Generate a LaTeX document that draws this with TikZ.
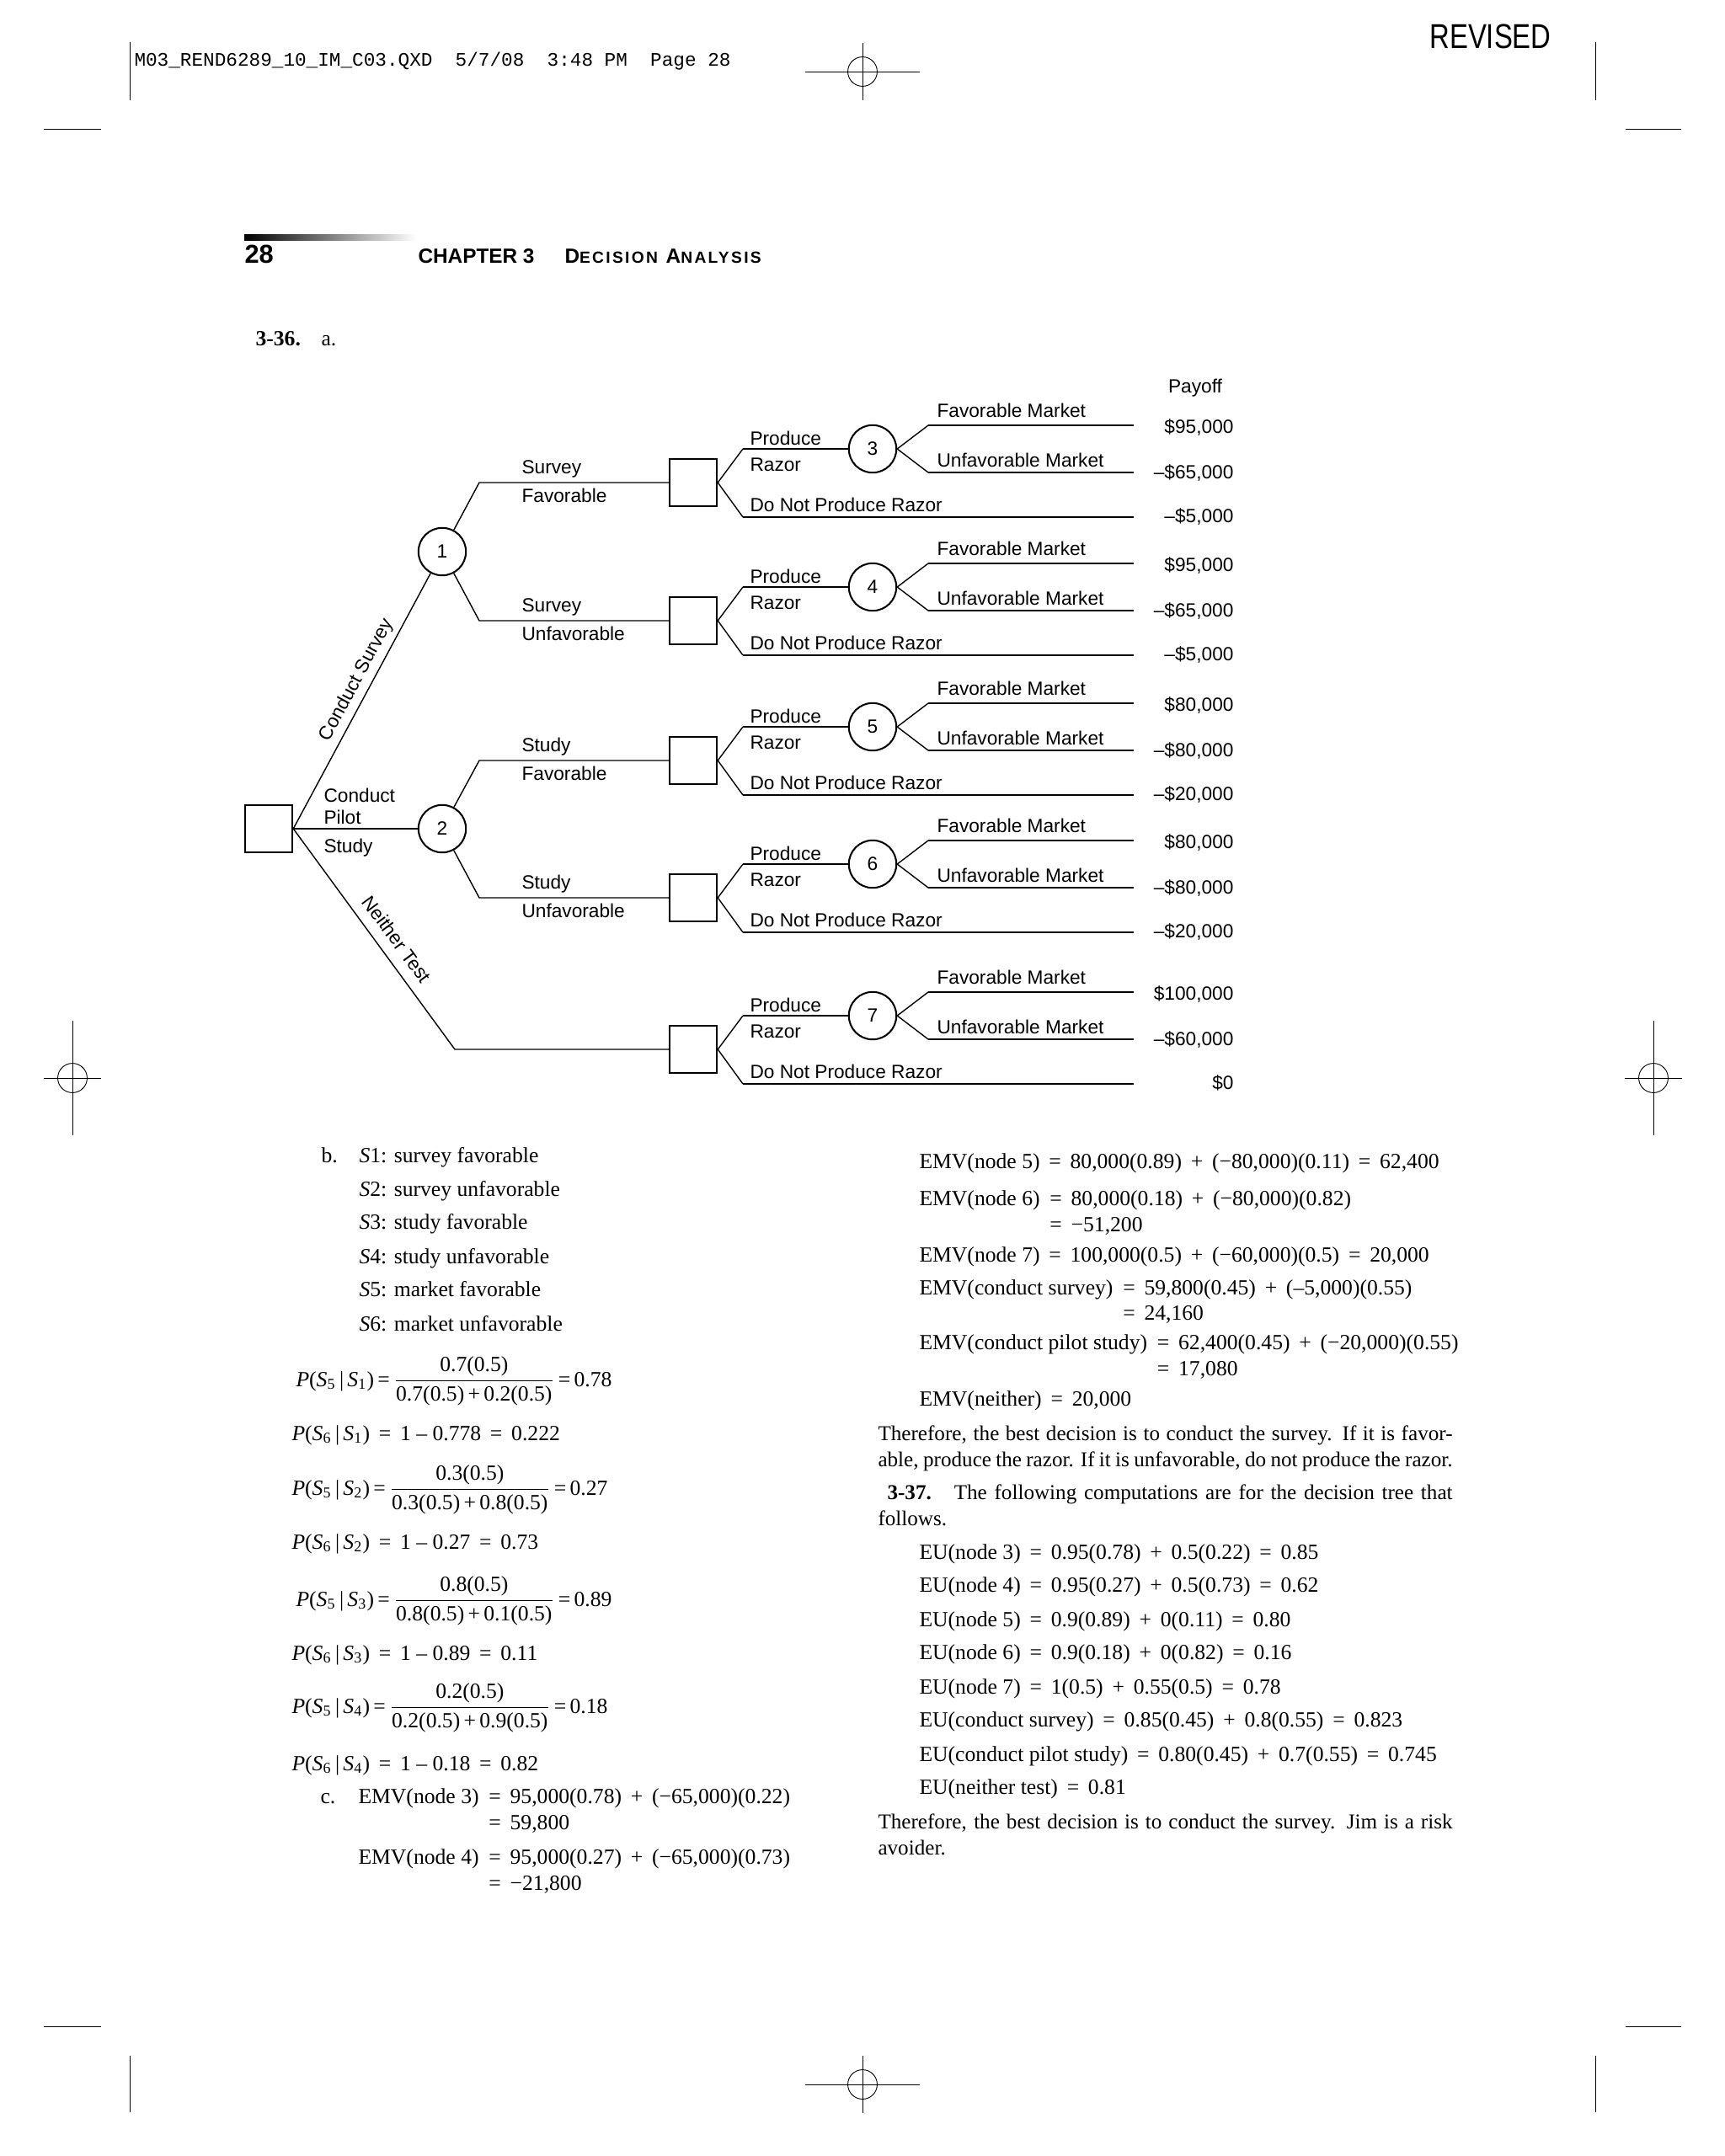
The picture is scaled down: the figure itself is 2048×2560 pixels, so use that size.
\documentclass[tikz,border=0pt]{standalone}
\usepackage{amsmath}
\usepackage{fontspec}
\setmainfont{Liberation Serif}
\setsansfont{Liberation Sans}
\setmonofont{Liberation Mono}
\newfontfamily\revfont[FakeStretch=0.8]{Liberation Sans}
\newfontfamily\capfont[LetterSpace=12]{Liberation Sans}
\newcommand\cprob[2]{\textit{P}(\textit{S}\textsubscript{#1}\,|\,\textit{S}\textsubscript{#2})}
\newcommand\Eq{\hspace{0.42em}=\hspace{0.42em}}
\newcommand\Pl{\hspace{0.42em}+\hspace{0.42em}}

\begin{document}
\begin{tikzpicture}[x=0.39pt, y=-0.39pt,
    lbl/.style={font=\sffamily\fontsize{8.85}{10}\selectfont, inner sep=0pt},
    txt/.style={font=\fontsize{10}{12.1}\selectfont, inner sep=0pt},
    para/.style={font=\fontsize{9.8}{12.1}\selectfont, inner sep=0pt, text width=266pt, align=justify},
    dbox/.style={draw, line width=1pt, minimum size=21.8pt, inner sep=0pt},
    cnode/.style={draw, circle, line width=0.8pt, minimum size=22pt, inner sep=0pt,
                  font=\sffamily\fontsize{8.85}{10}\selectfont},
    br/.style={line width=0.55pt},
    pay/.style={line width=1.1pt},
    crop/.style={line width=0.35pt}]

    % page
    \path[use as bounding box, fill=white] (0,0) rectangle (2048,2560);

    % crop marks
    \foreach \x in {154,1894} {
        \draw[crop] (\x,50) -- (\x,119);
        \draw[crop] (\x,2441) -- (\x,2508);
    }
    \foreach \x/\xx in {52/120,1930/1996} {
        \draw[crop] (\x,153) -- (\xx,153);
        \draw[crop] (\x,2406) -- (\xx,2406);
    }
    \foreach \cx/\cy/\hh/\vv in {1024/85/68/34, 1024/2475/68/34, 86/1280/34/68, 1963/1280/34/68} {
        \draw[crop] (\cx,\cy) circle [radius=6.8pt];
        \draw[crop] (\cx-\hh,\cy) -- (\cx+\hh,\cy);
        \draw[crop] (\cx,\cy-\vv) -- (\cx,\cy+\vv);
    }

    % running head
    \node[anchor=base west, inner sep=0pt, font=\ttfamily\fontsize{8.85}{10}\selectfont] (slug) at (159,78)
        {M03\_REND6289\_10\_IM\_C03.QXD~~5/7/08~~3:48~PM~~Page~28};
    \node[anchor=base east, inner sep=0pt, font=\revfont\fontsize{16}{16}\selectfont] (rev) at (1842,57) {REVISED};
    \shade[left color=black, right color=white] (290,278) rectangle (494,285);
    \node[anchor=base west, inner sep=0pt, font=\sffamily\bfseries\fontsize{12}{12}\selectfont] (pgno) at (290,312) {28};
    \node[anchor=base west, inner sep=0pt, font=\sffamily\bfseries\fontsize{9.5}{10}\selectfont] (chap) at (496,312) {CHAPTER 3};
    \node[anchor=base west, inner sep=0pt, font=\capfont\bfseries\fontsize{9.5}{10}\selectfont] (ctitle) at (670,312)
        {D{\fontsize{7.5}{8}\selectfont ECISION} A{\fontsize{7.5}{8}\selectfont NALYSIS}};
    \node[txt, anchor=base west] (q36) at (303,410) {\textbf{3-36.}};
    \node[txt, anchor=base west] (q36a) at (381,410) {a.};

    % decision tree
    \node[lbl, anchor=base] (payoff) at (1419,466) {Payoff};
    \node[dbox] (root) at (319,984) {};
    \node[cnode] (n1) at (525,655) {1};
    \node[cnode] (n2) at (525,984) {2};

    \foreach \yb/\k/\pa/\pb/\pc in {573/3/{\$95,000}/{–\$65,000}/{–\$5,000},
                                  737/4/{\$95,000}/{–\$65,000}/{–\$5,000},
                                  903/5/{\$80,000}/{–\$80,000}/{–\$20,000},
                                  1066/6/{\$80,000}/{–\$80,000}/{–\$20,000},
                                  1246/7/{\$100,000}/{–\$60,000}/{\$0}} {
        \node[dbox] (b\k) at (823,\yb) {};
        \node[cnode] (c\k) at (1036,\yb-40) {\k};
        \coordinate (pr\k) at (882,\yb-40);
        \coordinate (np\k) at (882,\yb+41);
        \coordinate (npe\k) at (1346,\yb+41);
        \coordinate (fm\k) at (1102,\yb-68);
        \coordinate (fme\k) at (1346,\yb-68);
        \coordinate (um\k) at (1102,\yb-12);
        \coordinate (ume\k) at (1346,\yb-12);
        \draw[br] (b\k.east) -- (pr\k);
        \draw[pay] (pr\k) -- (c\k);
        \draw[br] (b\k.east) -- (np\k);
        \draw[pay] (np\k) -- (npe\k);
        \draw[br] (c\k.east) -- (fm\k);
        \draw[pay] (fm\k) -- (fme\k);
        \draw[br] (c\k.east) -- (um\k);
        \draw[pay] (um\k) -- (ume\k);
        \node[lbl, anchor=base west] (lp\k) at (890,\yb-45) {Produce};
        \node[lbl, anchor=base west] (lr\k) at (890,\yb-14) {Razor};
        \node[lbl, anchor=base west] (ln\k) at (890,\yb+34) {Do Not Produce Razor};
        \node[lbl, anchor=base west] (lf\k) at (1112,\yb-78) {Favorable Market};
        \node[lbl, anchor=base west] (lu\k) at (1112,\yb-19) {Unfavorable Market};
        \node[lbl, anchor=base east] (va\k) at (1465,\yb-59) {\pa};
        \node[lbl, anchor=base east] (vb\k) at (1465,\yb-5) {\pb};
        \node[lbl, anchor=base east] (vc\k) at (1465,\yb+47) {\pc};
    }

    \coordinate (sf) at (569,573);
    \coordinate (su) at (569,737);
    \coordinate (tf) at (569,903);
    \coordinate (tu) at (569,1066);
    \coordinate (nt) at (540,1246);
    \draw[br] (root.east) -- (n1);
    \draw[br] (root.east) -- (n2);
    \draw[br] (root.east) -- (nt) -- (b7.west);
    \draw[br] (n1) -- (sf) -- (b3.west);
    \draw[br] (n1) -- (su) -- (b4.west);
    \draw[br] (n2) -- (tf) -- (b5.west);
    \draw[br] (n2) -- (tu) -- (b6.west);

    \foreach \yy/\wa/\wb/\nm in {573/Survey/Favorable/sf, 737/Survey/Unfavorable/su,
                                 903/Study/Favorable/tf, 1066/Study/Unfavorable/tu} {
        \node[lbl, anchor=base west] (l\nm a) at (619,\yy-11) {\wa};
        \node[lbl, anchor=base west] (l\nm b) at (619,\yy+23) {\wb};
    }
    \node[lbl, anchor=base west] (lcp1) at (384,952) {Conduct};
    \node[lbl, anchor=base west] (lcp2) at (384,978) {Pilot};
    \node[lbl, anchor=base west] (lcp3) at (384,1012) {Study};
    \node[lbl, rotate=61.6, anchor=south, inner sep=2pt] (lcs) at (438,815) {Conduct Survey};
    \node[lbl, rotate=-53.7, anchor=south, inner sep=3pt] (lnt) at (458,1125) {Neither Test};

    % part b, left column
    \node[txt, anchor=base west] (pb) at (381,1380) {b.};
    \foreach \yy/\sn/\lab in {1380/1/survey favorable, 1420/2/survey unfavorable, 1459/3/study favorable,
                              1500/4/study unfavorable, 1539/5/market favorable, 1580/6/market unfavorable}
        \node[txt, anchor=base west] (s\sn) at (426,\yy) {\textit{S}\sn: \lab};

    \node[txt, anchor=west] (f1) at (351,1640)
        {\cprob{5}{1}\,=\,$\displaystyle\frac{\text{0.7(0.5)}}{\text{0.7(0.5)\,+\,0.2(0.5)}}$\,=\,0.78};
    \node[txt, anchor=base west] (g1) at (346,1710) {\cprob{6}{1}\Eq 1 – 0.778\Eq 0.222};
    \node[txt, anchor=west] (f2) at (346,1769)
        {\cprob{5}{2}\,=\,$\displaystyle\frac{\text{0.3(0.5)}}{\text{0.3(0.5)\,+\,0.8(0.5)}}$\,=\,0.27};
    \node[txt, anchor=base west] (g2) at (346,1839) {\cprob{6}{2}\Eq 1 – 0.27\Eq 0.73};
    \node[txt, anchor=west] (f3) at (351,1901)
        {\cprob{5}{3}\,=\,$\displaystyle\frac{\text{0.8(0.5)}}{\text{0.8(0.5)\,+\,0.1(0.5)}}$\,=\,0.89};
    \node[txt, anchor=base west] (g3) at (346,1971) {\cprob{6}{3}\Eq 1 – 0.89\Eq 0.11};
    \node[txt, anchor=west] (f4) at (346,2028)
        {\cprob{5}{4}\,=\,$\displaystyle\frac{\text{0.2(0.5)}}{\text{0.2(0.5)\,+\,0.9(0.5)}}$\,=\,0.18};
    \node[txt, anchor=base west] (g4) at (346,2102) {\cprob{6}{4}\Eq 1 – 0.18\Eq 0.82};

    % part c
    \node[txt, anchor=base west] (pc) at (380,2141) {c.};
    \node[txt, anchor=base west] (e3l) at (425,2141) {EMV(node 3)};
    \node[txt, anchor=base west] (e3r) at ([xshift=4.2pt]e3l.base east) {=\hspace{0.42em}95,000(0.78)\Pl(−65,000)(0.22)};
    \node[txt, anchor=base west] (e3s) at ([yshift=-12.1pt]e3r.base west) {=\hspace{0.42em}59,800};
    \node[txt, anchor=base west] (e4l) at (425,2213) {EMV(node 4)};
    \node[txt, anchor=base west] (e4r) at ([xshift=4.2pt]e4l.base east) {=\hspace{0.42em}95,000(0.27)\Pl(−65,000)(0.73)};
    \node[txt, anchor=base west] (e4s) at ([yshift=-12.1pt]e4r.base west) {=\hspace{0.42em}−21,800};

    % right column
    \node[txt, anchor=base west] (e5) at (1091,1387) {EMV(node 5)\Eq 80,000(0.89)\Pl(−80,000)(0.11)\Eq 62,400};
    \node[txt, anchor=base west] (e6l) at (1091,1431) {EMV(node 6)};
    \node[txt, anchor=base west] (e6r) at ([xshift=4.2pt]e6l.base east) {=\hspace{0.42em}80,000(0.18)\Pl(−80,000)(0.82)};
    \node[txt, anchor=base west] (e6s) at ([yshift=-12.1pt]e6r.base west) {=\hspace{0.42em}−51,200};
    \node[txt, anchor=base west] (e7) at (1091,1498) {EMV(node 7)\Eq 100,000(0.5)\Pl(−60,000)(0.5)\Eq 20,000};
    \node[txt, anchor=base west] (ecsl) at (1091,1537) {EMV(conduct survey)};
    \node[txt, anchor=base west] (ecsr) at ([xshift=4.2pt]ecsl.base east) {=\hspace{0.42em}59,800(0.45)\Pl(–5,000)(0.55)};
    \node[txt, anchor=base west] (ecss) at ([yshift=-11.7pt]ecsr.base west) {=\hspace{0.42em}24,160};
    \node[txt, anchor=base west] (epsl) at (1091,1602) {EMV(conduct pilot study)};
    \node[txt, anchor=base west] (epsr) at ([xshift=4.2pt]epsl.base east) {=\hspace{0.42em}62,400(0.45)\Pl(−20,000)(0.55)};
    \node[txt, anchor=base west] (epss) at ([yshift=-12.1pt]epsr.base west) {=\hspace{0.42em}17,080};
    \node[txt, anchor=base west] (en) at (1091,1669) {EMV(neither)\Eq 20,000};

    \node[para, anchor=base west] (con1) at (1042,1710)
        {Therefore, the best decision is to conduct the survey. If it is favor-\linebreak
         able, produce the razor. If it is unfavorable, do not produce the razor.};
    \node[para, anchor=base west] (q37) at (1042,1780)
        {\hspace*{4.3pt}\textbf{3-37.}\hspace{10.5pt}The following computations are for the decision tree that\linebreak
         follows.};

    \foreach \yy/\k/\lab in {1851/n3/{EU(node 3)\Eq 0.95(0.78)\Pl 0.5(0.22)\Eq 0.85},
                             1890/n4/{EU(node 4)\Eq 0.95(0.27)\Pl 0.5(0.73)\Eq 0.62},
                             1931/n5/{EU(node 5)\Eq 0.9(0.89)\Pl 0(0.11)\Eq 0.80},
                             1970/n6/{EU(node 6)\Eq 0.9(0.18)\Pl 0(0.82)\Eq 0.16},
                             2011/n7/{EU(node 7)\Eq 1(0.5)\Pl 0.55(0.5)\Eq 0.78},
                             2050/cs/{EU(conduct survey)\Eq 0.85(0.45)\Pl 0.8(0.55)\Eq 0.823},
                             2091/ps/{EU(conduct pilot study)\Eq 0.80(0.45)\Pl 0.7(0.55)\Eq 0.745},
                             2130/nt/{EU(neither test)\Eq 0.81}}
        \node[txt, anchor=base west] (eu\k) at (1091,\yy) {\lab};

    \node[para, anchor=base west] (con2) at (1042,2171)
        {Therefore, the best decision is to conduct the survey. Jim is a risk\linebreak
         avoider.};
\end{tikzpicture}
\end{document}
